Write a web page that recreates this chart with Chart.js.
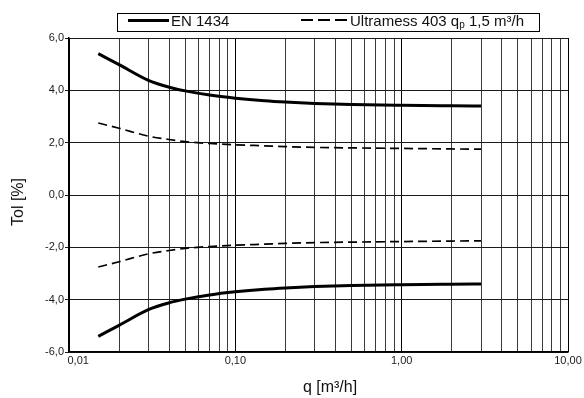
<!DOCTYPE html>
<html>
<head>
<meta charset="utf-8">
<script src="https://cdn.jsdelivr.net/npm/chart.js@4"></script>
<style>
  body { margin: 0; background: #fff; font-family: "Liberation Sans", Arial, sans-serif; }
  #wrap { position: relative; width: 584px; height: 398px; }
  #legend { position: absolute; left: 117px; top: 13px; width: 421px; height: 17px; border: 1px solid #000; }
  .txt { position: absolute; font-size: 15px; line-height: 15px; color: #111; white-space: nowrap; }
  .solid { position: absolute; left: 10px; top: 5px; width: 41px; height: 3px; background: #000; }
  .dash { position: absolute; left: 183px; top: 5px; width: 46px; height: 1.6px;
          background: repeating-linear-gradient(to right, #000 0 12px, transparent 12px 17px); }
  sub { font-size: 10px; vertical-align: -2px; line-height: 0; }
  .axt { position: absolute; font-size: 16px; line-height: 16px; color: #111; white-space: nowrap; }
</style>
</head>
<body>
<div id="wrap">
  <canvas id="tolChart"></canvas>
  <div id="legend">
    <div class="solid"></div>
    <span class="txt" style="left:53px; top:-1px;">EN 1434</span>
    <div class="dash"></div>
    <span class="txt" style="left:232px; top:-1px;">Ultramess 403 q<sub>p</sub> 1,5 m³/h</span>
  </div>
  <div class="axt" style="left:18px; top:202px; transform: translate(-50%, -50%) rotate(-90deg);">Tol [%]</div>
  <div class="axt" style="left:330px; top:387px; transform: translate(-50%, -50%);">q [m³/h]</div>
</div>
<script>
document.addEventListener("DOMContentLoaded", function() {
    // Data
    var q = [0.015, 0.02, 0.03, 0.04, 0.05, 0.07, 0.1, 0.15, 0.2, 0.3, 0.5, 1, 2, 3];
    var enUpper = [5.4, 4.98, 4.38, 4.12, 3.98, 3.82, 3.7, 3.6, 3.55, 3.5, 3.46, 3.43, 3.41, 3.4];
    var enLower = [-5.4, -4.98, -4.38, -4.12, -3.98, -3.82, -3.7, -3.6, -3.55, -3.5, -3.46, -3.43, -3.41, -3.4];
    var umUpper = [2.75, 2.55, 2.25, 2.12, 2.04, 1.97, 1.92, 1.88, 1.85, 1.82, 1.8, 1.78, 1.76, 1.75];
    var umLower = [-2.75, -2.55, -2.25, -2.12, -2.04, -1.97, -1.92, -1.88, -1.85, -1.82, -1.8, -1.78, -1.76, -1.75];

    var decades = [0.01, 0.1, 1, 10];
    var decadeLabels = ['      0,01', '0,10', '1,00', '10,00'];
    var gridSteps = [1, 2, 3, 4, 5, 6, 7, 8, 9];

    var xTicks = [];
    decades.slice(0, 3).forEach(function(d) {
        gridSteps.forEach(function(s) { xTicks.push(+(d * s).toPrecision(3)); });
    });
    xTicks.push(10);

    function pts(ys) {
        return q.map(function(v, i) { return { x: v, y: ys[i] }; });
    }
    function isDecade(v) {
        return decades.some(function(d) { return Math.abs(d - v) < 1e-9; });
    }

    var solid = { borderColor: '#000', borderWidth: 3, pointRadius: 0, fill: false, cubicInterpolationMode: 'monotone' };
    var dashed = { borderColor: '#000', borderWidth: 1.7, borderDash: [9, 5], pointRadius: 0, fill: false, cubicInterpolationMode: 'monotone' };

    var ctx = document.getElementById('tolChart').getContext('2d');
    new Chart(ctx, {
        type: 'line',
        data: {
            datasets: [
                Object.assign({ label: 'EN 1434', data: pts(enUpper) }, solid),
                Object.assign({ label: 'EN 1434 -', data: pts(enLower) }, solid),
                Object.assign({ label: 'Ultramess 403 qp 1,5 m³/h', data: pts(umUpper) }, dashed),
                Object.assign({ label: 'Ultramess 403 -', data: pts(umLower) }, dashed)
            ]
        },
        options: {
            responsive: true,
            maintainAspectRatio: false,
            animation: false,
            layout: { padding: { left: 0, top: 38, right: 16, bottom: 0 } },
            plugins: {
                legend: { display: false },
                tooltip: { enabled: false }
            },
            scales: {
                x: {
                    type: 'logarithmic',
                    min: 0.01,
                    max: 10,
                    afterBuildTicks: function(s) {
                        s.ticks = xTicks.map(function(v) { return { value: v }; });
                    },
                    afterFit: function(s) { s.height = 46; },
                    border: { color: '#000', width: 1.5 },
                    grid: {
                        drawTicks: false,
                        lineWidth: 1,
                        color: function(c) { return isDecade(c.tick.value) ? '#000' : '#3a3a3a'; }
                    },
                    ticks: {
                        autoSkip: false,
                        maxRotation: 0,
                        padding: 2,
                        color: '#1a1a1a',
                        font: { family: 'Liberation Sans', size: 11 },
                        callback: function(v) {
                            var i = decades.findIndex(function(d) { return Math.abs(d - v) < 1e-9; });
                            return i >= 0 ? decadeLabels[i] : '';
                        }
                    }
                },
                y: {
                    min: -6,
                    max: 6,
                    afterFit: function(s) { s.width = 69; },
                    border: { color: '#000', width: 1.5 },
                    grid: { color: '#1a1a1a', lineWidth: 1, tickLength: 4 },
                    ticks: {
                        stepSize: 2,
                        padding: 1,
                        color: '#1a1a1a',
                        font: { family: 'Liberation Sans', size: 11 },
                        callback: function(v) { return v.toFixed(1).replace('.', ','); }
                    }
                }
            }
        }
    });
});
</script>
</body>
</html>
